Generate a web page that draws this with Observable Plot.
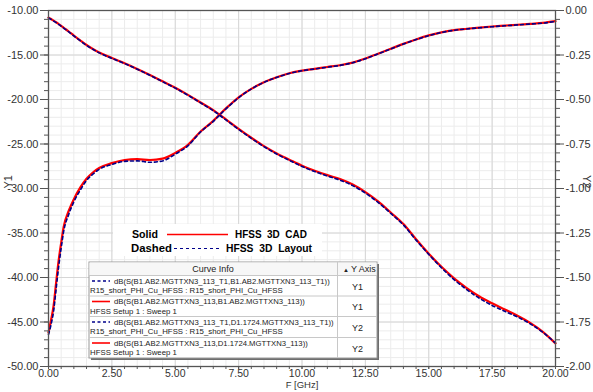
<!DOCTYPE html>
<html><head><meta charset="utf-8">
<script src="https://cdn.jsdelivr.net/npm/d3@7"></script>
<script src="https://cdn.jsdelivr.net/npm/@observablehq/plot@0.6"></script>
<style>
body{margin:0;background:#fff;}
#wrap{position:relative;width:593px;height:392px;overflow:hidden;font-family:"Liberation Sans",Arial,sans-serif;}
#wrap svg{display:block;}
.ov{position:absolute;left:0;top:0;}
</style></head><body><div id="wrap"></div>
<script>
const freq = [0,0.1,0.2,0.3,0.4,0.5,0.6,0.8,1.0,1.25,1.5,1.75,2.0,2.5,3.0,3.5,4.0,4.5,5.0,5.5,6.0,6.5,7.0,7.5,8.0,8.5,9.0,9.5,10,10.5,11,11.5,12,12.5,13,13.5,14,14.5,15,15.5,16,16.5,17,17.5,18,18.5,19,19.5,20];
// Y1 (dB) : S11 curves
const s11Solid = [-46.2,-44.8,-43.2,-40.6,-38.1,-36.1,-34.3,-32.5,-31.2,-29.9,-28.9,-28.2,-27.7,-27.15,-26.8,-26.7,-26.8,-26.65,-26.0,-25.1,-23.6,-22.4,-21.0,-19.75,-18.8,-18.05,-17.5,-17.05,-16.75,-16.55,-16.35,-16.15,-15.85,-15.4,-14.85,-14.3,-13.75,-13.25,-12.8,-12.45,-12.2,-12.05,-11.92,-11.8,-11.7,-11.6,-11.5,-11.4,-11.2];
const s11Dashed = [-46.4,-45.3,-43.8,-41.3,-38.8,-36.7,-34.8,-32.9,-31.5,-30.2,-29.1,-28.4,-27.85,-27.3,-26.95,-26.9,-27.05,-26.9,-26.15,-25.2,-23.65,-22.45,-21.05,-19.8,-18.82,-18.07,-17.52,-17.07,-16.77,-16.57,-16.37,-16.17,-15.87,-15.42,-14.87,-14.32,-13.77,-13.27,-12.82,-12.47,-12.22,-12.07,-11.94,-11.82,-11.72,-11.62,-11.52,-11.42,-11.22];
// Y2 (dB) : S21 curves
const s21Solid = [-0.04,-0.048,-0.057,-0.066,-0.076,-0.086,-0.097,-0.118,-0.141,-0.168,-0.194,-0.216,-0.236,-0.267,-0.296,-0.328,-0.362,-0.398,-0.434,-0.474,-0.517,-0.56,-0.612,-0.665,-0.715,-0.762,-0.803,-0.838,-0.872,-0.9,-0.925,-0.947,-0.978,-1.02,-1.072,-1.135,-1.2,-1.285,-1.366,-1.44,-1.505,-1.56,-1.607,-1.645,-1.68,-1.715,-1.755,-1.805,-1.87];
const s21Dashed = [-0.042,-0.05,-0.059,-0.068,-0.078,-0.088,-0.099,-0.12,-0.143,-0.17,-0.196,-0.218,-0.238,-0.269,-0.298,-0.33,-0.364,-0.4,-0.436,-0.476,-0.519,-0.563,-0.615,-0.668,-0.718,-0.765,-0.806,-0.842,-0.876,-0.905,-0.93,-0.953,-0.984,-1.026,-1.078,-1.14,-1.205,-1.29,-1.37,-1.445,-1.512,-1.568,-1.617,-1.657,-1.69,-1.722,-1.76,-1.808,-1.868];

const xMajor = [0,2.5,5,7.5,10,12.5,15,17.5,20];
const xMinor = [0,0.5,1,1.5,2,2.5,3,3.5,4,4.5,5,5.5,6,6.5,7,7.5,8,8.5,9,9.5,10,10.5,11,11.5,12,12.5,13,13.5,14,14.5,15,15.5,16,16.5,17,17.5,18,18.5,19,19.5,20];
const yMajor = [-10,-15,-20,-25,-30,-35,-40,-45,-50];
const yMinor = [-10,-11,-12,-13,-14,-15,-16,-17,-18,-19,-20,-21,-22,-23,-24,-25,-26,-27,-28,-29,-30,-31,-32,-33,-34,-35,-36,-37,-38,-39,-40,-41,-42,-43,-44,-45,-46,-47,-48,-49,-50];
const y2Labels = ["0.00","-0.25","-0.50","-0.75","-1.00","-1.25","-1.50","-1.75","-2.00"];

const legendRows = [
  {l1:"dB(S(B1.AB2.MGTTXN3_113_T1,B1.AB2.MGTTXN3_113_T1))", w1:216, l2:"R15_short_PHI_Cu_HFSS : R15_short_PHI_Cu_HFSS", w2:193, axis:"Y1", dashed:true},
  {l1:"dB(S(B1.AB2.MGTTXN3_113,B1.AB2.MGTTXN3_113))", w1:191, l2:"HFSS Setup 1 : Sweep 1", w2:87, axis:"Y1", dashed:false},
  {l1:"dB(S(B1.AB2.MGTTXN3_113_T1,D1.1724.MGTTXN3_113_T1))", w1:220, l2:"R15_short_PHI_Cu_HFSS : R15_short_PHI_Cu_HFSS", w2:193, axis:"Y2", dashed:true},
  {l1:"dB(S(B1.AB2.MGTTXN3_113,D1.1724.MGTTXN3_113))", w1:194, l2:"HFSS Setup 1 : Sweep 1", w2:87, axis:"Y2", dashed:false}
];

// Y2 (0 .. -2) shares the frame with Y1 (-10 .. -50)
const toY1 = v => -10 + v * 20;
const RED = "#ff0000", NAVY = "#00008b";

const chart = Plot.plot({
  width: 593, height: 392,
  marginLeft: 48, marginRight: 38, marginTop: 10, marginBottom: 26,
  style: {fontFamily: '"Liberation Sans", Arial, sans-serif', fontSize: "11px", background: "#fff", color: "#333"},
  x: {domain: [0, 20]},
  y: {domain: [-50, -10]},
  marks: [
    Plot.gridX(xMinor, {stroke: "#ececec", strokeOpacity: 1}),
    Plot.gridY(yMinor, {stroke: "#ececec", strokeOpacity: 1}),
    Plot.gridX(xMajor, {stroke: "#d6d6d6", strokeOpacity: 1}),
    Plot.gridY(yMajor, {stroke: "#d6d6d6", strokeOpacity: 1}),
    Plot.line(freq, {x: d => d, y: (d, i) => s11Solid[i], stroke: RED, strokeWidth: 2.2, curve: "monotone-x"}),
    Plot.line(freq, {x: d => d, y: (d, i) => toY1(s21Solid[i]), stroke: RED, strokeWidth: 2.2, curve: "monotone-x"}),
    Plot.line(freq, {x: d => d, y: (d, i) => s11Dashed[i], stroke: NAVY, strokeWidth: 1.6, strokeDasharray: "3,3", curve: "monotone-x"}),
    Plot.line(freq, {x: d => d, y: (d, i) => toY1(s21Dashed[i]), stroke: NAVY, strokeWidth: 1.6, strokeDasharray: "3,3", curve: "monotone-x"}),
    Plot.frame({stroke: "#555", strokeWidth: 1.3}),
    Plot.axisX(xMinor, {tickSize: 3, text: null, stroke: "#555"}),
    Plot.axisX(xMajor, {tickSize: 3, tickPadding: 0, fontSize: 10.5, tickFormat: d => d.toFixed(2), stroke: "#555", label: null, fill: "#333"}),
    Plot.axisY(yMinor, {anchor: "left", tickSize: 4, text: null, stroke: "#555"}),
    Plot.axisY(yMajor, {anchor: "left", tickSize: 8, tickPadding: 2, tickFormat: d => d.toFixed(2), stroke: "#555", label: null, fill: "#333"}),
    Plot.axisY(yMinor, {anchor: "right", tickSize: 4, text: null, stroke: "#555"}),
    Plot.axisY(yMajor, {anchor: "right", tickSize: 8, tickPadding: 2, tickFormat: (d, i) => y2Labels[i], stroke: "#555", label: null, fill: "#333"}),
    Plot.text(["F [GHz]"], {frameAnchor: "bottom", dy: 21.5, fill: "#333", fontSize: 9.5}),
    Plot.text(["Y1"], {frameAnchor: "left", dx: -40, rotate: -90, fill: "#333"}),
    Plot.text(["Y2"], {frameAnchor: "right", dx: 31, rotate: 90, fill: "#333"})
  ]
});
const wrap = document.getElementById("wrap");
wrap.appendChild(chart);

// Annotation and Curve Info box
const bx = 89, by = 262, bw = 288, bh = 96, col = 337.5, headH = 13.5;
const rowTops = [275.5, 296, 316.5, 337.5, 358];
let s = `<svg class="ov" width="593" height="392" xmlns="http://www.w3.org/2000/svg" font-family='"Liberation Sans", Arial, sans-serif'>`;
s += `<rect x="113" y="224" width="209" height="32" fill="#fff"/>`;
s += `<text class="fit" data-x="132" data-y="238" data-w="26" font-size="11" font-weight="bold" fill="#000">Solid</text>`;
s += `<line x1="167" x2="228" y1="234.5" y2="234.5" stroke="${RED}" stroke-width="1.5"/>`;
s += `<text class="fit" data-x="235" data-y="238" data-w="72" font-size="11" font-weight="bold" fill="#000" xml:space="preserve">HFSS  3D  CAD</text>`;
s += `<text class="fit" data-x="131" data-y="252" data-w="41" font-size="11" font-weight="bold" fill="#000">Dashed</text>`;
s += `<line x1="174" x2="219" y1="248.5" y2="248.5" stroke="${NAVY}" stroke-width="1.2" stroke-dasharray="3,3"/>`;
s += `<text class="fit" data-x="226" data-y="252" data-w="86" font-size="11" font-weight="bold" fill="#000" xml:space="preserve">HFSS  3D  Layout</text>`;
// box
s += `<rect x="${bx+2}" y="${by+2}" width="${bw}" height="${bh}" fill="#6e6e6e"/>`;
s += `<rect x="${bx}" y="${by}" width="${bw}" height="${bh}" fill="#fff" stroke="#9a9a9a"/>`;
s += `<rect x="${bx+0.5}" y="${by+0.5}" width="${bw-1}" height="${headH}" fill="#f7f7f7"/>`;
rowTops.slice(0, 4).forEach(y => { s += `<line x1="${bx}" x2="${bx+bw}" y1="${y}" y2="${y}" stroke="#c8c8c8"/>`; });
s += `<line x1="${col}" x2="${col}" y1="${by}" y2="${by+bh}" stroke="#c8c8c8"/>`;
s += `<text x="213" y="272" font-size="9" fill="#222" text-anchor="middle">Curve Info</text>`;
s += `<text x="343" y="271.5" font-size="6" fill="#222">▲</text>`;
s += `<text x="351" y="272" font-size="9" fill="#222">Y Axis</text>`;
legendRows.forEach((r, i) => {
  const t = rowTops[i];
  const ly = t + 5.5;
  s += `<line x1="92" x2="110" y1="${ly}" y2="${ly}" stroke="${r.dashed ? NAVY : RED}" stroke-width="1.6" ${r.dashed ? 'stroke-dasharray="3,2.5"' : ''}/>`;
  s += `<text class="fit" data-x="114" data-y="${t + 8}" data-w="${r.w1}" font-size="8" fill="#222">${r.l1}</text>`;
  s += `<text class="fit" data-x="90" data-y="${t + 17.5}" data-w="${r.w2}" font-size="8" fill="#222">${r.l2}</text>`;
  s += `<text x="357.5" y="${t + 14}" font-size="9" fill="#222" text-anchor="middle">${r.axis}</text>`;
});
s += `</svg>`;
wrap.insertAdjacentHTML("beforeend", s);
// fit each text to its measured width in the reference by horizontal scaling
wrap.querySelectorAll("text.fit").forEach(el => {
  const x = +el.dataset.x, y = +el.dataset.y, w = +el.dataset.w;
  const nat = el.getComputedTextLength() || w;
  el.setAttribute("transform", `translate(${x},${y}) scale(${(w / nat).toFixed(4)},1)`);
});
</script>
</body></html>
